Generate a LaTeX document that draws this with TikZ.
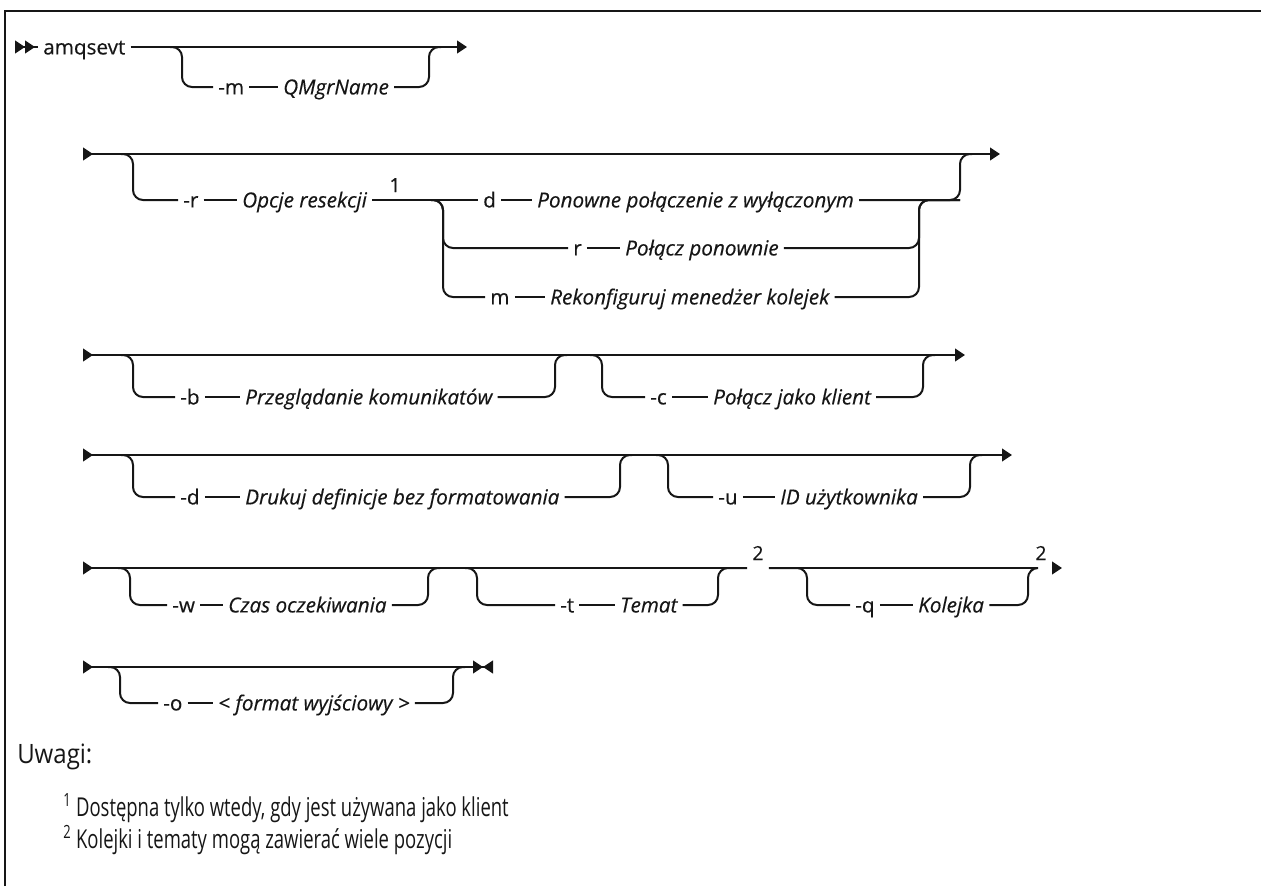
\documentclass[tikz,border=0pt]{standalone}
\usepackage{fontspec}
\setmainfont{Open Sans}
\newfontfamily\diagFont[FakeBold=0.4]{Open Sans}
\newfontfamily\uwagiFont[FakeStretch=0.71]{Open Sans}
\newfontfamily\uwagiTytul[FakeStretch=0.9]{Open Sans}
\usetikzlibrary{arrows.meta, positioning}
\definecolor{grafit}{HTML}{161616}
\colorlet{colLinia}{grafit}
\colorlet{colTekst}{grafit}
\tikzset{
  grot/.tip={Triangle[length=7.5pt, width=9.5pt]},
  linia/.style={draw=colLinia, line width=1.5pt, rounded corners=7.5pt},
  ramka/.style={draw=colLinia, line width=2pt},
  slowo/.style={anchor=west, inner xsep=3.75pt, inner ysep=0pt,
    text height=11.1pt, text depth=0pt, text=colTekst,
    font=\diagFont\fontsize{15.5}{18}\selectfont},
  zmienna/.style={slowo, font=\diagFont\fontsize{15.5}{18}\selectfont\itshape},
  indeks/.style={anchor=base, inner xsep=3.75pt, inner ysep=0pt, text=colTekst,
    font=\diagFont\fontsize{14.5}{17}\selectfont},
  uwaga/.style={anchor=west, inner sep=0pt, text=colTekst,
    font=\uwagiFont\fontsize{19.5}{23}\selectfont},
  naglowek/.style={uwaga, font=\uwagiTytul\fontsize{20}{24}\selectfont},
}
\begin{document}
\begin{tikzpicture}[x=0.75pt, y=-0.75pt]
  \useasboundingbox (0,0) rectangle (1261,886);
  \draw[ramka] (5,886) -- (5,11) -- (1261,11);

  % amqsevt -m
  \node[slowo] (amq) at (38,47) {amqsevt};
  \node[slowo] (m1) at (213,87) {-m};
  \node[zmienna] (qm) at (278,87) {QMgrName};
  \coordinate (s1) at (15,47);   \coordinate (e1) at (467,47);
  \coordinate (mLg) at (170,47); \coordinate (mLd) at (182,87);
  \coordinate (mPd) at (429,87); \coordinate (mPg) at (441,47);
  \draw[linia, {grot[reversed] grot[reversed]}-] (s1) -- (amq);
  \draw[linia, -grot] (amq) -- (e1);
  \draw[linia] (mLg) -| (mLd) -- (m1);
  \draw[linia] (m1) -- (qm);
  \draw[linia] (qm) -- (mPd) |- (mPg);

  % -r
  \node[slowo] (r2) at (178,200) {-r};
  \node[zmienna] (opc) at (237,200) {Opcje resekcji};
  \node[indeks] (ind1) at (395,192) {1};
  \node[slowo] (kd) at (478,200) {d};
  \node[zmienna] (pon) at (532,200) {Ponowne połączenie z wyłączonym};
  \node[slowo] (kr) at (568,248) {r};
  \node[zmienna] (pol) at (620,248) {Połącz ponownie};
  \node[slowo] (km) at (485,297) {m};
  \node[zmienna] (rek) at (545,297) {Rekonfiguruj menedżer kolejek};
  \coordinate (s2) at (83,154);  \coordinate (e2) at (1000,154);
  \coordinate (rLg) at (121,154); \coordinate (rLd) at (133,200);
  \coordinate (rPd) at (960,200); \coordinate (rPg) at (972,154);
  \coordinate (wybor) at (431,200);
  \coordinate (wR) at (443,248); \coordinate (wM) at (443,297);
  \coordinate (zR) at (919,248); \coordinate (zM) at (919,297);
  \draw[linia, {grot[reversed]}-grot] (s2) -- (e2);
  \draw[linia] (rLg) -| (rLd) -- (r2);
  \draw[linia] (r2) -- (opc);
  \draw[linia] (opc) -- (kd);
  \draw[linia] (kd) -- (pon);
  \draw[linia] (pon) -- (rPd) |- (rPg);
  \draw[linia] (wybor) -| (wR) -- (kr);
  \draw[linia] (wybor) -| (wM) -- (km);
  \draw[linia] (kr) -- (pol);
  \draw[linia] (km) -- (rek);
  \draw[linia] (pol) -- (zR) |- (rPd);
  \draw[linia] (rek) -- (zM) |- (rPd);

  % -b -c
  \node[slowo] (kb) at (175,397) {-b};
  \node[zmienna] (prz) at (240,397) {Przeglądanie komunikatów};
  \node[slowo] (kc) at (645,397) {-c};
  \node[zmienna] (jak) at (708,397) {Połącz jako klient};
  \coordinate (s3) at (83,355);  \coordinate (e3) at (965,355);
  \coordinate (bLg) at (121,355); \coordinate (bLd) at (133,397);
  \coordinate (bPd) at (555,397); \coordinate (bPg) at (567,355);
  \coordinate (cLg) at (590,355); \coordinate (cLd) at (602,397);
  \coordinate (cPd) at (923,397); \coordinate (cPg) at (935,355);
  \draw[linia, {grot[reversed]}-grot] (s3) -- (e3);
  \draw[linia] (bLg) -| (bLd) -- (kb);
  \draw[linia] (kb) -- (prz);
  \draw[linia] (prz) -- (bPd) |- (bPg);
  \draw[linia] (cLg) -| (cLd) -- (kc);
  \draw[linia] (kc) -- (jak);
  \draw[linia] (jak) -- (cPd) |- (cPg);

  % -d -u
  \node[slowo] (kdd) at (175,497) {-d};
  \node[zmienna] (dru) at (240,497) {Drukuj definicje bez formatowania};
  \node[slowo] (ku) at (713,497) {-u};
  \node[zmienna] (idu) at (775,497) {ID użytkownika};
  \coordinate (s4) at (83,455);  \coordinate (e4) at (1012,455);
  \coordinate (dLg) at (121,455); \coordinate (dLd) at (133,497);
  \coordinate (dPd) at (620,497); \coordinate (dPg) at (632,455);
  \coordinate (uLg) at (656,455); \coordinate (uLd) at (668,497);
  \coordinate (uPd) at (970,497); \coordinate (uPg) at (982,455);
  \draw[linia, {grot[reversed]}-grot] (s4) -- (e4);
  \draw[linia] (dLg) -| (dLd) -- (kdd);
  \draw[linia] (kdd) -- (dru);
  \draw[linia] (dru) -- (dPd) |- (dPg);
  \draw[linia] (uLg) -| (uLd) -- (ku);
  \draw[linia] (ku) -- (idu);
  \draw[linia] (idu) -- (uPd) |- (uPg);

  % -w -t -q
  \node[slowo] (kw) at (167,605) {-w};
  \node[zmienna] (czas) at (223,605) {Czas oczekiwania};
  \node[slowo] (kt) at (555,605) {-t};
  \node[zmienna] (tem) at (615,605) {Temat};
  \node[indeks] (dw1) at (758,568) {\raisebox{6pt}{2}};
  \node[slowo] (kq) at (850,605) {-q};
  \node[zmienna] (kol) at (913,605) {Kolejka};
  \node[indeks] (dw2) at (1041,568) {\raisebox{6pt}{2}};
  \coordinate (s5) at (83,568);  \coordinate (e5) at (1062,568);
  \coordinate (wLg) at (118,568); \coordinate (wLd) at (130,605);
  \coordinate (wPd) at (428,605); \coordinate (wPg) at (440,568);
  \coordinate (tLg) at (465,568); \coordinate (tLd) at (477,605);
  \coordinate (tPd) at (718,605);
  \coordinate (qLd) at (807,605); \coordinate (qPd) at (1028,605);
  \draw[linia, {grot[reversed]}-] (s5) -- (dw1.base west);
  \draw[linia] (dw1.base east) -- (dw2.base west);
  \draw[linia, -grot] (dw2.base east) -- (e5);
  \draw[linia] (wLg) -| (wLd) -- (kw);
  \draw[linia] (kw) -- (czas);
  \draw[linia] (czas) -- (wPd) |- (wPg);
  \draw[linia] (tLg) -| (tLd) -- (kt);
  \draw[linia] (kt) -- (tem);
  \draw[linia] (tem) -- (tPd) |- (dw1.base west);
  \draw[linia] (dw1.base east) -| (qLd) -- (kq);
  \draw[linia] (kq) -- (kol);
  \draw[linia] (kol) -- (qPd) |- (dw2.base west);

  % -o
  \node[slowo] (ko) at (158,703) {-o};
  \node[zmienna] (fmt) at (213,703) {< format wyjściowy >};
  \coordinate (s6) at (83,667);  \coordinate (e6) at (493,667);
  \coordinate (oLg) at (108,667); \coordinate (oLd) at (120,703);
  \coordinate (oPd) at (453,703); \coordinate (oPg) at (465,667);
  \draw[linia, {grot[reversed]}-{grot[] grot[reversed]}] (s6) -- (e6);
  \draw[linia] (oLg) -| (oLd) -- (ko);
  \draw[linia] (ko) -- (fmt);
  \draw[linia] (fmt) -- (oPd) |- (oPg);

  \node[naglowek] (uw) at (17,757) {Uwagi:};
  \node[uwaga] (n1) at (63,808) {\textsuperscript{1} Dostępna tylko wtedy, gdy jest używana jako klient};
  \node[uwaga] (n2) at (63,840) {\textsuperscript{2} Kolejki i tematy mogą zawierać wiele pozycji};
\end{tikzpicture}
\end{document}
